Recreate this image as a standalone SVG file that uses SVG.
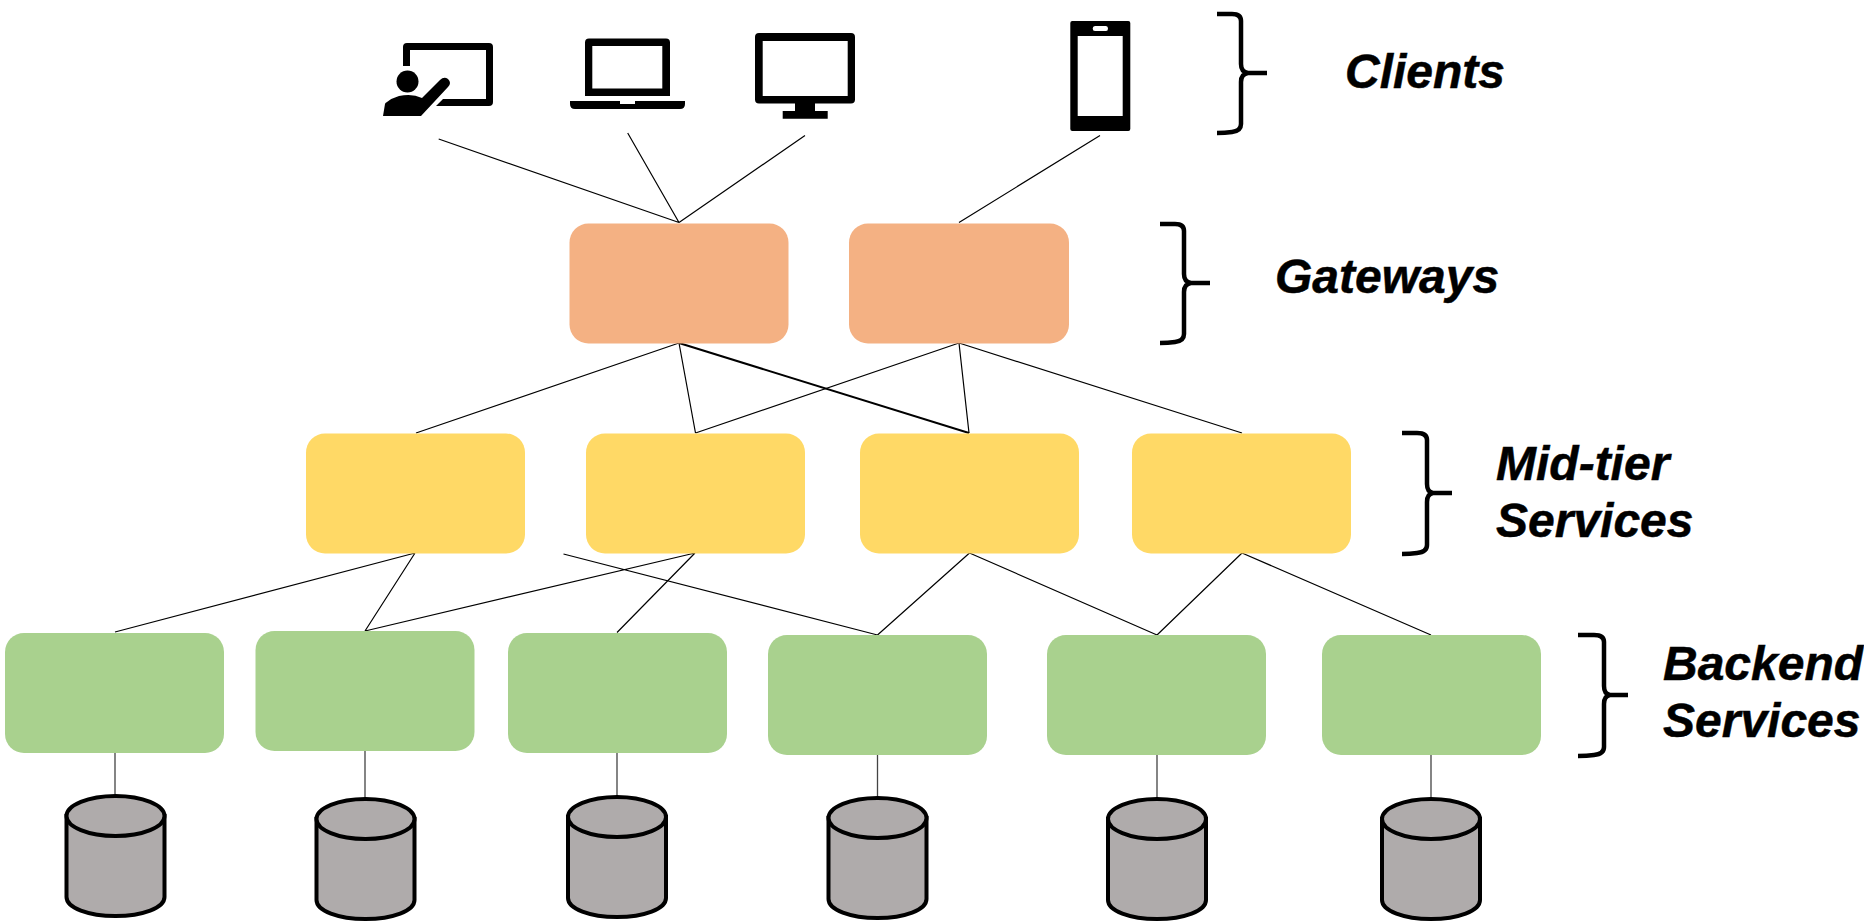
<svg xmlns="http://www.w3.org/2000/svg" xmlns:xlink="http://www.w3.org/1999/xlink" width="1864" height="923" viewBox="0 0 1864 923">
<style>
.gw{fill:#F4B183}.mid{fill:#FFD966}.be{fill:#A9D18E}
.c{stroke:#000;stroke-width:1.2;fill:none}
.v{stroke:#444;stroke-width:1.3;fill:none}
.cyl{fill:#AFABAB;stroke:#000;stroke-width:4}
.br{fill:none;stroke:#000;stroke-width:4.500}
.ic{fill:#000;fill-rule:evenodd}
text{font-family:"Liberation Sans",Arial,sans-serif;font-weight:bold;font-style:italic;font-size:48px;fill:#000;stroke:#000;stroke-width:.5}
</style>
<defs>
<g id="db"><path class="cyl" d="M-49 21V102C-49 113-27 121 0 121S49 113 49 102V21Z"/><ellipse class="cyl" cx="0" cy="21" rx="49" ry="20"/></g>
</defs>
<rect width="1864" height="923" fill="#fff"/>
<g id="connectors">
<path class="c" d="M438.700 139L679 222.500M627.700 133L679 222.500M805 135.500L679 222.500M1100 135.500L959 222.500"/>
<path class="c" d="M679 343L416 433M679 343L695.500 433M959 343L695.500 433M959 343L969 433M959 343L1242 433"/>
<path class="c" style="stroke-width:2" d="M679 343L969 433"/>
<path class="c" d="M415 553L115 632M415 553L365 631M695 553L365 631M695 553L617 632.500M563.500 554L877.500 635M969.500 553L877.500 635M969.500 553L1157 635M1242 553L1157 635M1242 553L1431 635"/>
<path class="v" d="M115 752V795M365 750V798M617 752V796M877.500 754V797M1157 754V798M1431 754V798"/>
</g>
<g id="client-presenter"><path class="ic" d="M403 66V47Q403 43 407 43H489Q493 43 493 47V102Q493 106 489 106H436L443 99H486V50H410V66Z"/><circle class="ic" cx="407.500" cy="81.500" r="11"/><path class="ic" d="M387 102Q392 98 399 96Q412 93 422 98L440 80Q444 76 448 79Q452 83 448 87L421 116H383L385 104Q385 103 387 102Z"/></g>
<g id="client-laptop"><path class="ic" d="M589 38.500H666Q670 38.500 670 42.500V96H585V42.500Q585 38.500 589 38.500ZM592.300 46V88.500H662.300V46Z"/><path class="ic" d="M570 101H620V104H635V101H685V104Q685 109 680 109H575Q570 109 570 104Z"/></g>
<g id="client-monitor"><path class="ic" d="M759 33H851Q855 33 855 37V99.500Q855 103.500 851 103.500H815V111H827.700V118.700H782.700V111H795V103.500H759Q755 103.500 755 99.500V37Q755 33 759 33ZM762.700 41V96H847.700V41Z"/></g>
<g id="client-phone"><path class="ic" d="M1072.300 21H1128.300Q1130.300 21 1130.300 23V129Q1130.300 131 1128.300 131H1072.300Q1070.300 131 1070.300 129V23Q1070.300 21 1072.300 21ZM1077.700 36V116H1122.700V36ZM1095 26Q1092.700 26 1092.700 28.500T1095 31H1106Q1108 31 1108 28.500T1106 26Z"/></g>
<g id="gateway-1"><rect class="gw" x="569.500" y="223.500" width="219" height="120" rx="19"/></g>
<g id="gateway-2"><rect class="gw" x="849" y="223.500" width="220" height="120" rx="19"/></g>
<g id="mid-1"><rect class="mid" x="306" y="433.500" width="219" height="120" rx="19"/></g>
<g id="mid-2"><rect class="mid" x="586" y="433.500" width="219" height="120" rx="19"/></g>
<g id="mid-3"><rect class="mid" x="860" y="433.500" width="219" height="120" rx="19"/></g>
<g id="mid-4"><rect class="mid" x="1132" y="433.500" width="219" height="120" rx="19"/></g>
<g id="backend-1"><rect class="be" x="5" y="633" width="219" height="120" rx="19"/></g>
<g id="backend-2"><rect class="be" x="255.500" y="631" width="219" height="120" rx="19"/></g>
<g id="backend-3"><rect class="be" x="508" y="633" width="219" height="120" rx="19"/></g>
<g id="backend-4"><rect class="be" x="768" y="635" width="219" height="120" rx="19"/></g>
<g id="backend-5"><rect class="be" x="1047" y="635" width="219" height="120" rx="19"/></g>
<g id="backend-6"><rect class="be" x="1322" y="635" width="219" height="120" rx="19"/></g>
<g id="db-1"><use xlink:href="#db" href="#db" x="115.500" y="795"/></g>
<g id="db-2"><use xlink:href="#db" href="#db" x="365.500" y="798"/></g>
<g id="db-3"><use xlink:href="#db" href="#db" x="617" y="796"/></g>
<g id="db-4"><use xlink:href="#db" href="#db" x="877.500" y="797"/></g>
<g id="db-5"><use xlink:href="#db" href="#db" x="1157" y="798"/></g>
<g id="db-6"><use xlink:href="#db" href="#db" x="1431" y="798"/></g>
<g id="brace-clients"><path class="br" d="M1217 14H1232Q1241 14 1241 21V64Q1241 72 1248 73H1267M1248 73Q1241 74 1241 82V124Q1241 131 1232 132Q1225 133 1217 133"/></g>
<g id="brace-gateways"><path class="br" d="M1160 224H1175Q1184 224 1184 231V274Q1184 282 1191 283H1210M1191 283Q1184 284 1184 292V334Q1184 341 1175 342Q1168 343 1160 343"/></g>
<g id="brace-mid"><path class="br" d="M1402 433H1417Q1427 433 1427 440V484Q1427 492 1433 493H1452M1433 493Q1427 494 1427 502V545Q1427 552 1417 553Q1410 554 1402 554"/></g>
<g id="brace-backend"><path class="br" d="M1578 635H1594Q1604 635 1604 642V686Q1604 694 1610 695H1628M1610 695Q1604 696 1604 704V747Q1604 754 1594 755Q1587 756 1578 756"/></g>
<g id="labels">
<text x="1345" y="88">Clients</text>
<text x="1275" y="293">Gateways</text>
<text x="1496" y="480">Mid-tier</text>
<text x="1496" y="537">Services</text>
<text x="1663" y="680">Backend</text>
<text x="1663" y="737">Services</text>
</g>
</svg>
